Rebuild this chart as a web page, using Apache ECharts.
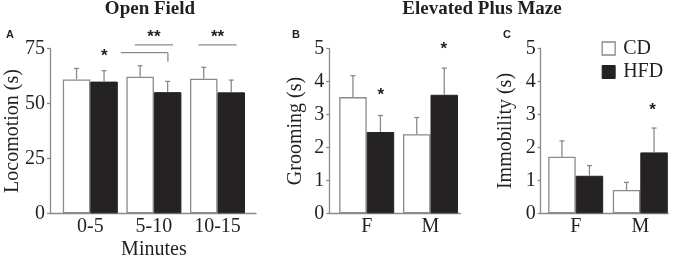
<!DOCTYPE html>
<html>
<head>
<meta charset="utf-8">
<script src="https://cdn.jsdelivr.net/npm/echarts@6/dist/echarts.min.js"></script>
<style>
  html, body { margin: 0; padding: 0; background: #fff; }
  #chart { width: 680px; height: 257px; }
</style>
</head>
<body>
<div id="chart"></div>
<script>
// Panel A: Open Field
const minutes = ['0-5', '5-10', '10-15'];
const locoCD = [61, 62.2, 61.3];
const locoCDSem = [5, 5, 5.2];
const locoHFD = [60, 55.2, 55.1];
const locoHFDSem = [5, 4.9, 5.6];

// Panels B and C: Elevated Plus Maze
const sexes = ['F', 'M'];
const groomCD = [3.53, 2.40];
const groomCDSem = [0.65, 0.51];
const groomHFD = [2.47, 3.60];
const groomHFDSem = [0.50, 0.81];
const immobCD = [1.72, 0.71];
const immobCDSem = [0.48, 0.23];
const immobHFD = [1.14, 1.85];
const immobHFDSem = [0.31, 0.74];

// significance marks: [category, offset in bands, value]
const starsA = [[0, 0.22, 73.2], [1, 0, 82], [2, 0, 82]];
const starsAText = ['*', '**', '**'];
const starsB = [[0, 0.22, 3.70], [1, 0.21, 5.11]];
const starsC = [[1, 0.19, 3.24]];
// brackets: [category, from offset, to offset, value, end tick value]
const bracketsA = [[0, 0.48, 1.22, 73.2, 69.1], [1, -0.3, 0.3, 76.7, 76.7], [2, -0.3, 0.3, 76.7, 76.7]];

const GRAY = '#8a8a8a';
const DARK = '#252223';
const SERIF = '"Liberation Serif", "Times New Roman", serif';
const BAR_W = 27.5;

const chart = echarts.init(document.getElementById('chart'));

const TOP = 48.7, HEIGHT = 164.6;
function grid(left, width) {
  return {left: left, top: TOP, width: width, height: HEIGHT, outerBoundsMode: 'none', containLabel: false};
}
const grids = [
  // frames (axes)
  grid(50, 206), grid(329.3, 131), grid(540.7, 127.5),
  // bars
  grid(58.5, 190.8), grid(334.8, 127.6), grid(543.4, 129.2)
];

function frameX(i) {
  return {
    type: 'value', gridIndex: i, min: 0, max: 1,
    axisLine: {show: true, lineStyle: {color: GRAY, width: 1.3}},
    axisTick: {show: false}, axisLabel: {show: false}, splitLine: {show: false}
  };
}
function frameY(i, max, interval, name, gap) {
  return {
    type: 'value', gridIndex: i, min: 0, max: max, interval: interval,
    name: name, nameLocation: 'middle', nameGap: gap, nameMoveOverlap: false,
    nameTextStyle: {fontFamily: SERIF, fontSize: 20, color: '#231f20'},
    axisLine: {show: true, lineStyle: {color: GRAY, width: 1.3}},
    axisTick: {show: true, inside: false, length: 3, lineStyle: {color: GRAY, width: 1.3}},
    axisLabel: {fontFamily: SERIF, fontSize: 20, color: '#231f20', margin: 5},
    splitLine: {show: false}
  };
}
function barX(i, cats, name) {
  return {
    type: 'category', gridIndex: i, data: cats,
    name: name || '', nameLocation: 'middle', nameGap: 26, nameMoveOverlap: false,
    nameTextStyle: {fontFamily: SERIF, fontSize: 20, color: '#231f20'},
    axisLine: {show: false}, axisTick: {show: false},
    axisLabel: {fontFamily: SERIF, fontSize: 20, color: '#231f20', margin: 3}
  };
}
function barY(i, max) {
  return {type: 'value', gridIndex: i, min: 0, max: max, show: false, splitLine: {show: false}};
}

function bars(name, axis, values, isCD) {
  return {
    type: 'bar', name: name, xAxisIndex: axis, yAxisIndex: axis,
    data: values, barWidth: BAR_W, barGap: '0%', silent: true,
    itemStyle: isCD
      ? {color: '#fff', borderColor: GRAY, borderWidth: 1.3}
      : {color: DARK, borderColor: DARK, borderWidth: 1},
    z: 2
  };
}

function errors(axis, values, sems, side) {
  return {
    type: 'custom', xAxisIndex: axis, yAxisIndex: axis, silent: true, z: 3, clip: false,
    data: values.map((v, i) => [i, v, sems[i]]),
    encode: {x: 0, y: 1},
    renderItem: function (params, api) {
      const base = api.coord([api.value(0), api.value(1)]);
      const top = api.coord([api.value(0), api.value(1) + api.value(2)]);
      const x = base[0] + side * BAR_W / 2;
      const style = {stroke: GRAY, lineWidth: 1.3};
      return {
        type: 'group',
        children: [
          {type: 'line', shape: {x1: x, y1: base[1], x2: x, y2: top[1]}, style: style},
          {type: 'line', shape: {x1: x - 2.5, y1: top[1], x2: x + 2.5, y2: top[1]}, style: style}
        ]
      };
    }
  };
}

function stars(axis, marks, texts) {
  return {
    type: 'custom', xAxisIndex: axis, yAxisIndex: axis, silent: true, z: 4, clip: false,
    data: marks, encode: {x: 0, y: 2},
    renderItem: function (params, api) {
      const p = api.coord([api.value(0), api.value(2)]);
      const band = api.size([1, 0])[0];
      return {
        type: 'text',
        style: {
          x: p[0] + api.value(1) * band, y: p[1] + 4,
          text: texts ? texts[params.dataIndex] : '*',
          align: 'center', verticalAlign: 'middle',
          font: 'bold 17px "Liberation Sans", Arial, sans-serif', fill: '#231f20'
        }
      };
    }
  };
}

function brackets(axis, items) {
  return {
    type: 'custom', xAxisIndex: axis, yAxisIndex: axis, silent: true, z: 4, clip: false,
    data: items, encode: {x: 0, y: 3},
    renderItem: function (params, api) {
      const p = api.coord([api.value(0), api.value(3)]);
      const q = api.coord([api.value(0), api.value(4)]);
      const band = api.size([1, 0])[0];
      const x1 = p[0] + api.value(1) * band;
      const x2 = p[0] + api.value(2) * band;
      const style = {stroke: GRAY, lineWidth: 1.3};
      return {
        type: 'group',
        children: [
          {type: 'line', shape: {x1: x1, y1: p[1], x2: x2, y2: p[1]}, style: style},
          {type: 'line', shape: {x1: x2, y1: p[1], x2: x2, y2: q[1]}, style: style}
        ]
      };
    }
  };
}

const titleFont = {fontFamily: SERIF, fontSize: 19, fontWeight: 'bold', color: '#231f20'};
const letterFont = {fontFamily: '"Liberation Sans", Arial, sans-serif', fontSize: 11, fontWeight: 'bold', color: '#231f20'};

chart.setOption({
  animation: false,
  title: [
    {text: 'Open Field', left: 150, top: 0, textAlign: 'center', padding: 0, textStyle: titleFont},
    {text: 'Elevated Plus Maze', left: 482, top: 0, textAlign: 'center', padding: 0, textStyle: titleFont},
    {text: 'A', left: 6, top: 29, padding: 0, textStyle: letterFont},
    {text: 'B', left: 292, top: 29, padding: 0, textStyle: letterFont},
    {text: 'C', left: 503, top: 29, padding: 0, textStyle: letterFont}
  ],
  legend: {
    orient: 'vertical', left: 596.5, top: 33.5,
    itemWidth: 13, itemHeight: 13, itemGap: 3.5,
    textStyle: {fontFamily: SERIF, fontSize: 20, color: '#231f20', lineHeight: 20, padding: [0, 0, 0, 3]},
    data: [
      {name: 'CD', icon: 'rect', itemStyle: {color: '#fff', borderColor: GRAY, borderWidth: 1.3}},
      {name: 'HFD', icon: 'rect', itemStyle: {color: DARK, borderColor: DARK, borderWidth: 1}}
    ]
  },
  grid: grids,
  xAxis: [
    frameX(0), frameX(1), frameX(2),
    barX(3, minutes, 'Minutes'), barX(4, sexes), barX(5, sexes)
  ],
  yAxis: [
    frameY(0, 75, 25, 'Locomotion (s)', 27),
    frameY(1, 5, 1, 'Grooming (s)', 24),
    frameY(2, 5, 1, 'Immobility (s)', 25),
    barY(3, 75), barY(4, 5), barY(5, 5)
  ],
  series: [
    bars('CD', 3, locoCD, true),
    bars('HFD', 3, locoHFD, false),
    bars('CD', 4, groomCD, true),
    bars('HFD', 4, groomHFD, false),
    bars('CD', 5, immobCD, true),
    bars('HFD', 5, immobHFD, false),
    errors(3, locoCD, locoCDSem, -1),
    errors(3, locoHFD, locoHFDSem, 1),
    errors(4, groomCD, groomCDSem, -1),
    errors(4, groomHFD, groomHFDSem, 1),
    errors(5, immobCD, immobCDSem, -1),
    errors(5, immobHFD, immobHFDSem, 1),
    stars(3, starsA, starsAText),
    stars(4, starsB),
    stars(5, starsC),
    brackets(3, bracketsA)
  ]
});

window.addEventListener('resize', function () {
  chart.resize();
});
</script>
</body>
</html>
